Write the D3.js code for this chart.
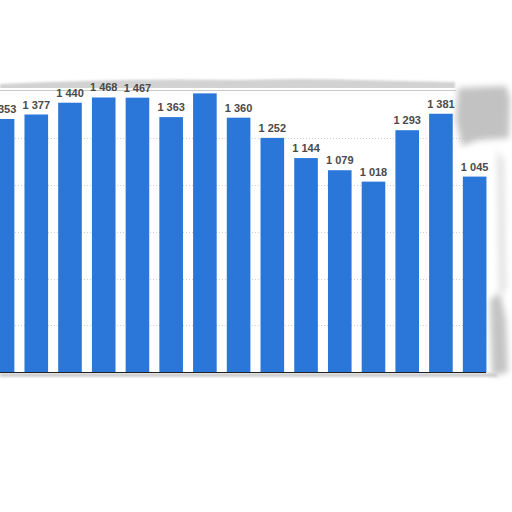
<!DOCTYPE html>
<html><head><meta charset="utf-8">
<script src="https://cdn.jsdelivr.net/npm/d3@7"></script>
<style>html,body{margin:0;padding:0;background:#fff;}svg{display:block;}</style>
</head><body>
<svg id="c" width="512" height="512"></svg>
<script>
const categories = ["c1","c2","c3","c4","c5","c6","c7","c8","c9","c10","c11","c12","c13","c14","c15"];
const values = [1353,1377,1440,1468,1467,1363,1490,1360,1252,1144,1079,1018,1293,1381,1045];
const showLabel = [true,true,true,true,true,true,false,true,true,true,true,true,true,true,true];
const gridTicks = [250,500,750,1000,1250];

const svg = d3.select("#c");
const defs = svg.append("defs");
const f = defs.append("filter").attr("id","blur").attr("x","-50%").attr("y","-50%").attr("width","200%").attr("height","200%");
f.append("feGaussianBlur").attr("stdDeviation",3);
const f2 = defs.append("filter").attr("id","blur2").attr("x","-50%").attr("y","-50%").attr("width","200%").attr("height","200%");
f2.append("feGaussianBlur").attr("stdDeviation",1.2);

const plotTop = 91.5, plotBottom = 372;
const x = d3.scaleBand().domain(categories).range([-14.3, 491.5]).paddingInner(0.3).paddingOuter(0.15);
const y = d3.scaleLinear().domain([0,1500]).range([plotBottom, plotTop]);

// paper shadows (behind plot)
svg.append("path").attr("d","M0,84 Q120,78 240,80 Q300,78 360,80 L455,82 L455,91 L0,91 Z")
  .attr("fill","#c8c8c8").attr("filter","url(#blur2)").attr("opacity",0.8);
svg.append("rect").attr("x",0).attr("y",88).attr("width",456).attr("height",5).attr("fill","#fff");
svg.append("path").attr("d","M490,300 L500,292 L506,320 L508,372 L492,376 Z")
  .attr("fill","#c4c4c4").attr("filter","url(#blur)");
svg.append("rect").attr("x",0).attr("y",373).attr("width",497).attr("height",4)
  .attr("fill","#cfcfcf").attr("filter","url(#blur2)");

// plot background
svg.append("rect").attr("x",0).attr("y",plotTop-1).attr("width",486).attr("height",plotBottom-plotTop+1).attr("fill","#fff");
svg.append("line").attr("x1",0).attr("x2",456).attr("y1",plotTop-1).attr("y2",plotTop-1).attr("stroke","#c9c9c9").attr("stroke-width",1);

// grid
svg.append("g").selectAll("line").data(gridTicks).join("line")
  .attr("x1",0).attr("x2",486).attr("y1",d=>Math.round(y(d))+0.5).attr("y2",d=>Math.round(y(d))+0.5)
  .attr("stroke","#cfcfcf").attr("stroke-width",1).attr("stroke-dasharray","1,2");

// smudge at upper right (over grid)
svg.append("path").attr("d","M458,88 L506,86 L510,98 L509,138 L478,140 L462,146 L456,120 Z")
  .attr("fill","#c2c2c2").attr("filter","url(#blur)");
svg.append("path").attr("d","M497,150 L504,160 L506,290 L499,295 Z")
  .attr("fill","#e2e2e2").attr("filter","url(#blur)");

// bars
svg.append("g").selectAll("rect").data(values).join("rect")
  .attr("x",(d,i)=>x(categories[i])).attr("width",x.bandwidth())
  .attr("y",d=>y(d)).attr("height",d=>plotBottom-y(d)).attr("fill","#2a77d9");

// labels
const fmt = v => d3.format(",")(v).replace(/,/g," ");
svg.append("g").selectAll("text").data(values.map((v,i)=>({v,i})).filter(d=>showLabel[d.i])).join("text")
  .attr("x",d=>x(categories[d.i])+x.bandwidth()/2).attr("y",d=>y(d.v)-6)
  .attr("text-anchor","middle").attr("font-family","'Liberation Sans', Arial, sans-serif")
  .attr("font-weight","bold").attr("font-size",11).attr("fill","#4a4a4a")
  .text(d=>fmt(d.v));

// baseline
svg.append("line").attr("x1",0).attr("x2",486).attr("y1",plotBottom+0.5).attr("y2",plotBottom+0.5).attr("stroke","#222").attr("stroke-width",1);
</script>
</body></html>
